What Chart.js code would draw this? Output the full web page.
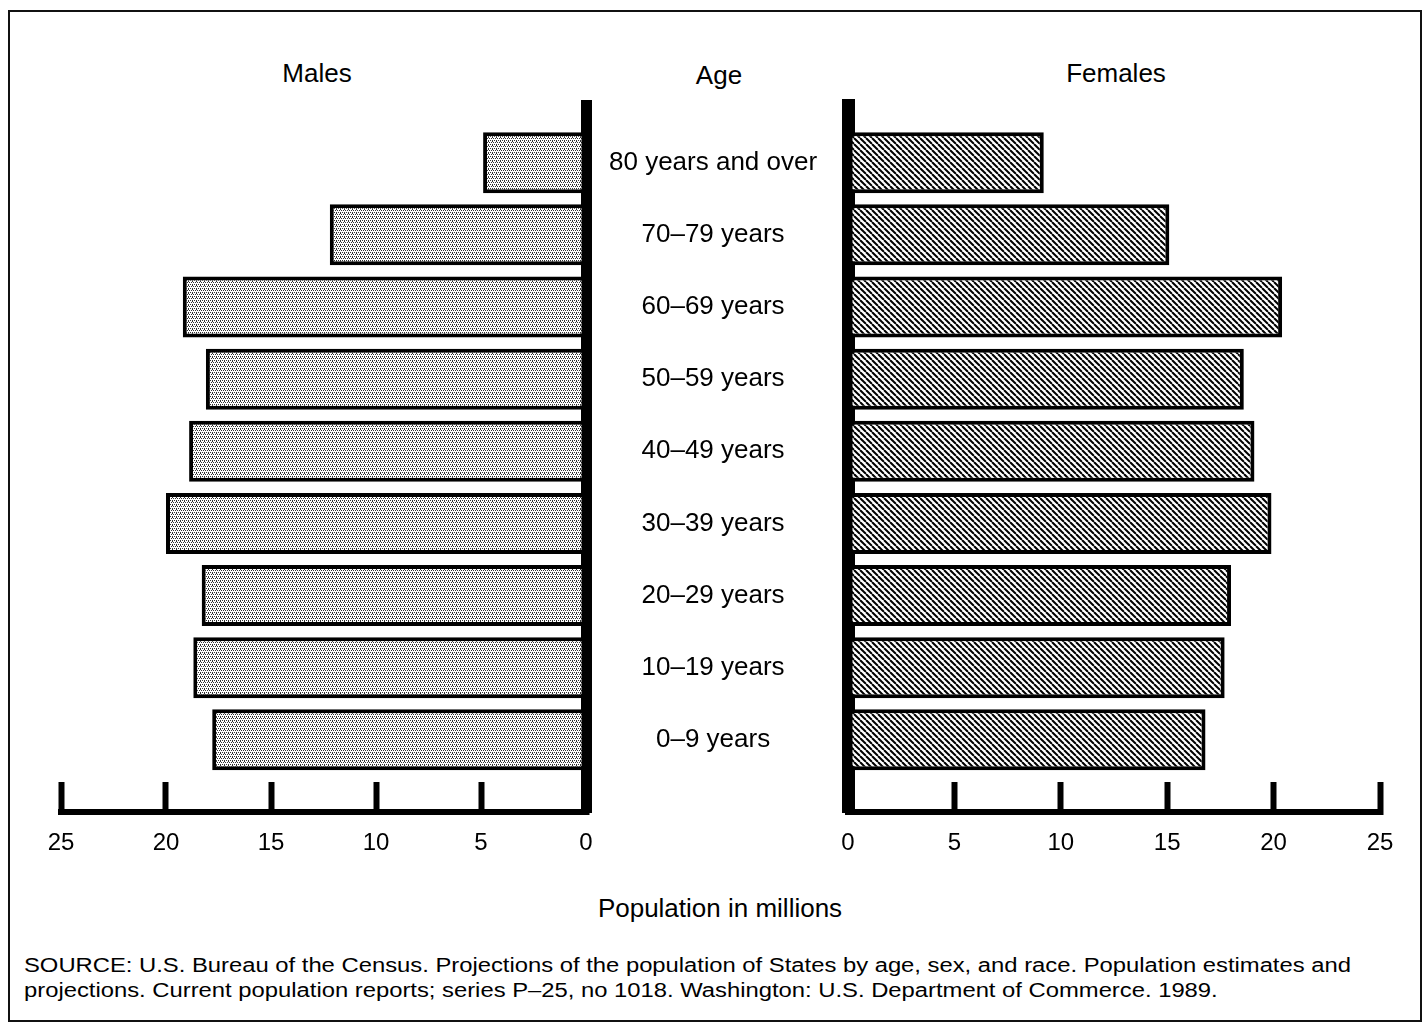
<!DOCTYPE html>
<html>
<head>
<meta charset="utf-8">
<script src="https://cdn.jsdelivr.net/npm/chart.js@4/dist/chart.umd.min.js"></script>
<style>
  html, body { margin: 0; padding: 0; background: #fff; }
  body { width: 1424px; height: 1030px; position: relative; overflow: hidden;
         font-family: "Liberation Sans", Arial, sans-serif; color: #000; }
  .frame { position: absolute; left: 8px; top: 10px; width: 1410px; height: 1008px;
           border: 2px solid #111; }
  .lbl { position: absolute; font-size: 26px; transform: translate(-50%, -50%); white-space: nowrap; }
  .src { position: absolute; left: 24px; top: 953px; font-size: 20px; line-height: 25px;
         white-space: nowrap; transform: scaleX(1.19); transform-origin: left top; }
  canvas { position: absolute; top: 0; }
</style>
</head>
<body>
<div class="frame"></div>
<div class="lbl" style="left:317px; top:73px;">Males</div>
<div class="lbl" style="left:719px; top:75px;">Age</div>
<div class="lbl" style="left:1116px; top:73px;">Females</div>
<div class="lbl" style="left:720px; top:908px;">Population in millions</div>
<div class="src">SOURCE: U.S. Bureau of the Census. Projections of the population of States by age, sex, and race. Population estimates and<br>projections. Current population reports; series P&ndash;25, no 1018. Washington: U.S. Department of Commerce. 1989.</div>

<canvas id="malesChart" width="860" height="900" style="left:0px;"></canvas>
<canvas id="femalesChart" width="588" height="900" style="left:836px;"></canvas>

<script>
// age groups, youngest first (bottom of the pyramid)
const ageGroups = ["0–9 years", "10–19 years", "20–29 years", "30–39 years", "40–49 years",
                   "50–59 years", "60–69 years", "70–79 years", "80 years and over"];
// population in millions
const males   = [17.8, 18.7, 18.3, 20.0, 18.9, 18.1, 19.2, 12.2, 4.9];
const females = [16.8, 17.7, 18.0, 19.9, 19.1, 18.6, 20.4, 15.1, 9.2];
const xTicks  = [0, 5, 10, 15, 20, 25];

const FONT = "'Liberation Sans', Arial, sans-serif";

// light dotted fill for the males
function dotPattern() {
    const c = document.createElement("canvas");
    c.width = 4; c.height = 4;
    const g = c.getContext("2d");
    g.fillStyle = "#fff";
    g.fillRect(0, 0, 4, 4);
    g.fillStyle = "#333";
    [[0, 0], [2, 0], [1, 2], [3, 2], [0, 1]].forEach(p => g.fillRect(p[0], p[1], 1, 1));
    return g.createPattern(c, "repeat");
}

// diagonal hatch for the females
function hatchPattern() {
    const c = document.createElement("canvas");
    c.width = 6; c.height = 6;
    const g = c.getContext("2d");
    g.fillStyle = "#fff";
    g.fillRect(0, 0, 6, 6);
    g.strokeStyle = "#000";
    g.lineWidth = 2;
    [-6, 0, 6].forEach(k => {
        g.beginPath();
        g.moveTo(k, 0);
        g.lineTo(k + 6, 6);
        g.stroke();
    });
    return g.createPattern(c, "repeat");
}

function pointsFor(values) {
    return values.map((v, i) => ({ x: v, y: i }));
}

// bottom value axis: ticks point up from the baseline, labels below
function xAxis(reverse) {
    return {
        type: "linear",
        min: 0,
        max: 25,
        reverse: reverse,
        offset: false,
        afterBuildTicks: s => { s.ticks = xTicks.map(v => ({ value: v })); },
        afterFit: s => { s.height = 60; },
        ticks: {
            color: "#000",
            font: { family: FONT, size: 24, lineHeight: 5.08 },
            padding: 0,
            maxRotation: 0
        },
        grid: {
            display: true,
            drawOnChartArea: false,
            drawTicks: true,
            tickLength: -30,
            tickWidth: 6,
            tickColor: "#000"
        },
        border: { display: true, color: "#000", width: 6 }
    };
}

function yAxis(position, withLabels, borderWidth) {
    return {
        type: "linear",
        position: position,
        min: -1.0,
        max: 8.8,
        offset: false,
        afterBuildTicks: s => { s.ticks = ageGroups.map((_, i) => ({ value: i })); },
        afterFit: s => { s.width = withLabels ? 262 : 0; },
        ticks: {
            display: withLabels,
            color: "#000",
            font: { family: FONT, size: 26 },
            crossAlign: "center",
            padding: 23,
            callback: v => ageGroups[v]
        },
        grid: { display: false, drawTicks: false, offset: false },
        border: { display: true, color: "#000", width: borderWidth }
    };
}

function barSet(label, values, fill) {
    return {
        label: label,
        data: pointsFor(values),
        backgroundColor: fill,
        borderColor: "#000",
        borderWidth: 4,
        borderSkipped: false,
        categoryPercentage: 1,
        barPercentage: 0.846
    };
}

new Chart(document.getElementById("malesChart"), {
    type: "bar",
    data: { datasets: [barSet("Males", males, dotPattern())] },
    options: {
        indexAxis: "y",
        responsive: false,
        animation: false,
        devicePixelRatio: 1,
        layout: { padding: { left: 61, top: 105, right: 12, bottom: 28 } },
        plugins: { legend: { display: false }, tooltip: { enabled: false } },
        scales: { x: xAxis(true), y: yAxis("right", true, 11) }
    }
});

new Chart(document.getElementById("femalesChart"), {
    type: "bar",
    data: { datasets: [barSet("Females", females, hatchPattern())] },
    options: {
        indexAxis: "y",
        responsive: false,
        animation: false,
        devicePixelRatio: 1,
        layout: { padding: { left: 12, top: 105, right: 44, bottom: 28 } },
        plugins: { legend: { display: false }, tooltip: { enabled: false } },
        scales: { x: xAxis(false), y: yAxis("left", false, 13) }
    }
});
</script>
</body>
</html>
